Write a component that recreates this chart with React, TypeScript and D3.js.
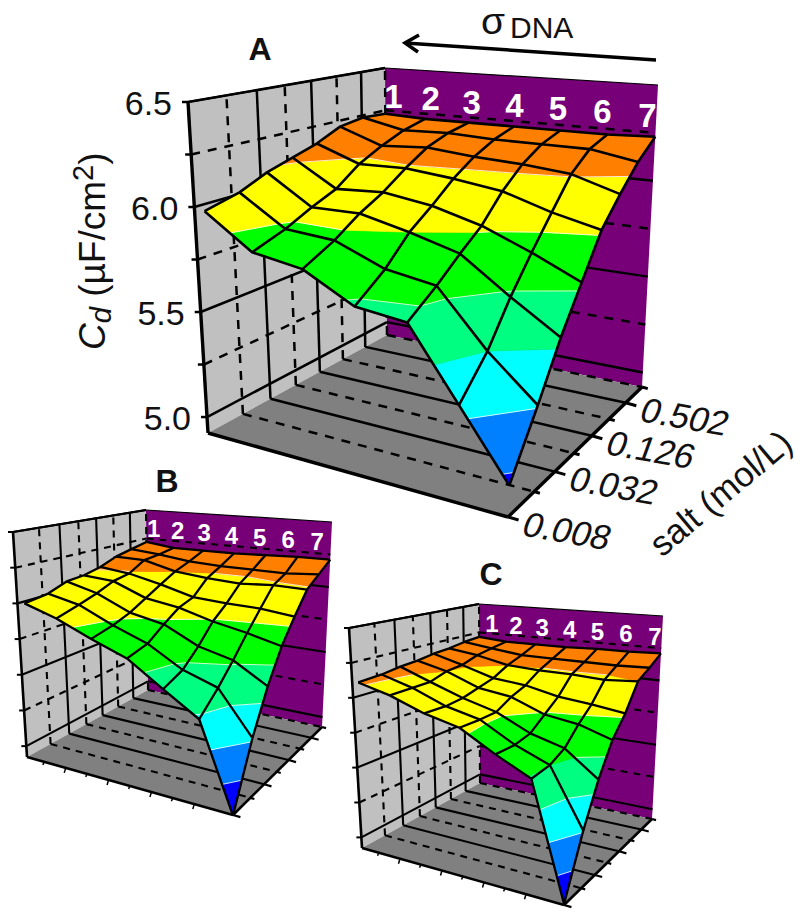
import React, { useEffect, useRef } from 'react'
import * as d3 from 'd3'

// surface heights, one row per salt step (front 0.008 to the back), seven sigma columns
const surfaceA = [
  [5.98, 5.83, 5.80, 5.68, 5.66, 5.35, 5.06],
  [6.02, 5.88, 5.87, 5.78, 5.75, 5.50, 5.31],
  [6.08, 5.94, 5.95, 5.90, 5.84, 5.68, 5.54],
  [6.12, 5.99, 6.01, 5.98, 5.92, 5.83, 5.73],
  [6.16, 6.08, 6.09, 6.07, 6.04, 5.97, 5.92],
  [6.22, 6.14, 6.16, 6.14, 6.13, 6.11, 6.04],
  [6.24, 6.19, 6.20, 6.19, 6.19, 6.19, 6.15],
  [6.23, 6.22, 6.22, 6.22, 6.22, 6.22, 6.23],
]
const surfaceB = [
  [6.00, 5.94, 5.85, 5.77, 5.62, 5.48, 4.92],
  [6.02, 5.98, 5.88, 5.80, 5.67, 5.60, 5.32],
  [6.07, 6.02, 5.92, 5.88, 5.77, 5.72, 5.59],
  [6.08, 6.07, 5.98, 5.95, 5.89, 5.85, 5.80],
  [6.11, 6.09, 6.04, 5.98, 5.97, 5.97, 5.95],
  [6.16, 6.16, 6.10, 6.08, 6.07, 6.09, 6.09],
  [6.19, 6.17, 6.14, 6.13, 6.13, 6.13, 6.15],
  [6.22, 6.19, 6.19, 6.19, 6.20, 6.21, 6.21],
]
const surfaceC = [
  [6.11, 6.06, 5.98, 5.93, 5.80, 5.69, 4.93],
  [6.12, 6.06, 5.97, 5.92, 5.79, 5.70, 5.31],
  [6.14, 6.06, 5.98, 5.92, 5.81, 5.75, 5.58],
  [6.15, 6.10, 6.01, 5.98, 5.89, 5.86, 5.79],
  [6.17, 6.11, 6.04, 6.02, 5.97, 5.95, 5.92],
  [6.18, 6.15, 6.10, 6.09, 6.09, 6.08, 6.10],
  [6.20, 6.17, 6.14, 6.14, 6.14, 6.14, 6.15],
  [6.21, 6.19, 6.19, 6.19, 6.20, 6.20, 6.21],
]

const sigmaLabels = ['1', '2', '3', '4', '5', '6', '7']
const saltLabels = ['0.008', '', '0.032', '', '0.126', '', '0.502', '']
const zTicks = [5, 5.25, 5.5, 5.75, 6, 6.25, 6.5]
const zLabels = ['5.0', '', '5.5', '', '6.0', '', '6.5']
const bandLimits = [5.1, 5.3, 5.5, 5.7, 5.9, 6.1]
const bandColors = ['#0000ff', '#0080ff', '#00ffff', '#00ff80', '#00ff00', '#ffff00', '#ff8000']

// screen corners of each box: front/back, left/right, bottom/top
const boxA = { flb: [208, 433], flt: [188, 102], blb: [387, 335], blt: [385, 68], brb: [642, 387], brt: [658, 85], frb: [508, 517], frt: [523, 152] }
const boxB = { flb: [27, 757], flt: [13, 532], blb: [148, 690], blt: [146, 510], brb: [322, 727], brt: [332, 522], frb: [233, 815], frt: [241, 569] }
const boxC = { flb: [362, 848], flt: [349, 628], blb: [480, 783], blt: [479, 604], brb: [652, 819], brt: [663, 616], frb: [564, 905], frt: [572, 662] }

const panels = [
  { values: surfaceA, box: boxA, inset: 10, big: true, labelFrom: 0.03, labelTo: 0.967, labelSize: 33 },
  { values: surfaceB, box: boxB, inset: 7, big: false, labelFrom: 0.04, labelTo: 0.925, labelSize: 24 },
  { values: surfaceC, box: boxC, inset: 6, big: false, labelFrom: 0.07, labelTo: 0.962, labelSize: 24 },
]

const uScale = d3.scalePow().exponent(1.07).domain([0, 6]).range([0, 1])
const vScale = d3.scalePow().exponent(0.84).domain([0, 7]).range([0, 1])
const wScale = d3.scaleLinear().domain([4.924, 6.5]).range([0, 1])

const mix = (a, b, t) => a + (b - a) * t

function project(b, u, v, z) {
  const w = wScale(z)
  return [0, 1].map(k => {
    const fl = mix(b.flb[k], b.flt[k], w)
    const fr = mix(b.frb[k], b.frt[k], w)
    const bl = mix(b.blb[k], b.blt[k], w)
    const br = mix(b.brb[k], b.brt[k], w)
    return mix(mix(fl, fr, u), mix(bl, br, u), v)
  })
}

const line = d3.line()
const closed = pts => line(pts) + 'Z'

// keep the part of a cell outline that lies between two heights
function clipBand(cell, lo, hi) {
  const clip = (pts, keep, level) => {
    const out = []
    pts.forEach((p, n) => {
      const q = pts[(n + 1) % pts.length]
      if (keep(p.z)) out.push(p)
      if (keep(p.z) !== keep(q.z)) {
        const t = (level - p.z) / (q.z - p.z)
        out.push({ u: mix(p.u, q.u, t), v: mix(p.v, q.v, t), z: level })
      }
    })
    return out
  }
  let pts = clip(cell, z => z >= lo, lo)
  if (pts.length) pts = clip(pts, z => z <= hi, hi)
  return pts
}

function drawPanel(svg, panel) {
  const { values, box, inset, big } = panel
  const g = svg.append('g')
  const gridWidth = big ? 2.5 : 2.1
  const dash = big ? '9,8' : '7,6'
  const bottom = wScale.domain()[0]
  const top = wScale.domain()[1]
  const gridLine = (a, b, solid, width = gridWidth) =>
    g.append('path').attr('d', line([a, b])).attr('stroke', '#000').attr('fill', 'none')
      .attr('stroke-width', width).attr('stroke-dasharray', solid ? null : dash)

  // walls and floor
  g.append('path').attr('d', closed([box.flb, box.flt, box.blt, box.blb])).attr('fill', '#c0c0c0')
  g.append('path').attr('d', closed([box.blb, box.blt, box.brt, box.brb])).attr('fill', '#770078')
  g.append('path').attr('d', closed([box.flb, box.blb, box.brb, box.frb])).attr('fill', '#808080')

  const saltSteps = d3.range(8)
  saltSteps.forEach(j => {
    const v = vScale(j)
    // floor lines and the matching uprights on the left wall
    if (j > 0) gridLine(project(box, 0, v, bottom), project(box, 1, v, bottom), j % 2 === 0)
    if (j > 0) gridLine(project(box, 0, v, bottom), project(box, 0, v, top), j % 2 === 0)
  })
  zTicks.forEach((z, n) => {
    gridLine(project(box, 0, 0, z), project(box, 0, 1, z), n % 2 === 0)
    if (n < zTicks.length - 1) gridLine(project(box, 0, 1, z), project(box, 1, 1, z), n % 2 === 0)
  })
  gridLine(project(box, 0, 0, top), project(box, 0, 1, top), true, 1.8)
  gridLine(project(box, 0, 1, top), project(box, 1, 1, top), true, 1.2)

  // frame edges
  const edge = big ? 3.4 : 2.6
  gridLine(box.flb, box.flt, true, edge)
  gridLine(box.flb, box.frb, true, edge)
  gridLine(box.frb, box.brb, true, edge)

  // axis ticks
  const front = [box.frb[0] - box.flb[0], box.frb[1] - box.flb[1]]
  const frontLen = Math.hypot(front[0], front[1])
  const dir = [front[0] / frontLen, front[1] / frontLen]
  saltSteps.forEach(j => {
    const p = project(box, 1, vScale(j), bottom)
    const len = (j % 2 === 0 ? 11 : 6) * (big ? 1 : 0.7)
    gridLine(p, [p[0] + dir[0] * len, p[1] + dir[1] * len], true, big ? 3 : 2.2)
  })
  zTicks.forEach(z => {
    const p = project(box, 0, 0, z)
    gridLine(p, [p[0] - (big ? 6 : 5), p[1]], true, big ? 2.5 : 2)
  })
  if (!big) {
    d3.range(1, 9).forEach(k => {
      const p = project(box, k * 0.104 - 0.02, 0, bottom)
      gridLine(p, [p[0] - 1.5, p[1] + (k % 2 === 0 ? 5 : 3)], true, 1.5)
    })
  }

  // surface, from the back row to the front row
  const sb = {
    ...box,
    flb: [box.flb[0] + inset, box.flb[1]],
    flt: [box.flt[0] + inset, box.flt[1]],
  }
  const fills = g.append('g')
  const whites = g.append('g')
  const cells = []
  for (let j = 6; j >= 0; j--) {
    for (let i = 0; i < 6; i++) {
      cells.push([
        { u: uScale(i), v: vScale(j), z: values[j][i] },
        { u: uScale(i + 1), v: vScale(j), z: values[j][i + 1] },
        { u: uScale(i + 1), v: vScale(j + 1), z: values[j + 1][i + 1] },
        { u: uScale(i), v: vScale(j + 1), z: values[j + 1][i] },
      ])
    }
  }
  const toScreen = p => project(sb, p.u, p.v, p.z)
  cells.forEach(cell => {
    bandColors.forEach((color, b) => {
      const lo = b === 0 ? -Infinity : bandLimits[b - 1]
      const hi = b === bandColors.length - 1 ? Infinity : bandLimits[b]
      const pts = clipBand(cell, lo, hi)
      if (pts.length > 2) {
        fills.append('path').attr('d', closed(pts.map(toScreen)))
          .attr('fill', color).attr('stroke', color).attr('stroke-width', 0.6)
      }
    })
    bandLimits.forEach(limit => {
      const cross = []
      cell.forEach((p, n) => {
        const q = cell[(n + 1) % 4]
        if ((p.z - limit) * (q.z - limit) < 0) {
          const t = (limit - p.z) / (q.z - p.z)
          cross.push(toScreen({ u: mix(p.u, q.u, t), v: mix(p.v, q.v, t), z: limit }))
        }
      })
      if (cross.length >= 2) {
        whites.append('path').attr('d', line(cross.slice(0, 2)))
          .attr('stroke', '#fff').attr('stroke-width', 1).attr('opacity', 0.8)
      }
    })
  })

  const surfacePath = d3.range(8).flatMap(j => [
    d3.range(7).map(i => toScreen({ u: uScale(i), v: vScale(j), z: values[j][i] })),
  ]).concat(d3.range(7).map(i => d3.range(8).map(j => toScreen({ u: uScale(i), v: vScale(j), z: values[j][i] }))))
  g.append('g').selectAll('path').data(surfacePath).enter().append('path')
    .attr('d', d => line(d)).attr('fill', 'none').attr('stroke', '#000')
    .attr('stroke-width', big ? 2.6 : 2.3).attr('stroke-linejoin', 'round')

  // sigma numbers on the back wall
  const labelU = d3.scaleLinear().domain([0, 1]).range([panel.labelFrom, panel.labelTo])
  g.append('g').selectAll('text').data(sigmaLabels).enter().append('text')
    .attr('x', (d, i) => project(box, labelU(uScale(i)), 1, 6.34)[0])
    .attr('y', (d, i) => project(box, labelU(uScale(i)), 1, 6.34)[1])
    .attr('dy', '0.36em').attr('text-anchor', 'middle').attr('fill', '#fff')
    .attr('font-weight', 'bold').attr('font-size', panel.labelSize).text(d => d)
}

export default function App() {
  const ref = useRef(null)
  useEffect(() => {
    const svg = d3.select(ref.current)
    svg.selectAll('*').remove()
    svg.attr('font-family', '"Liberation Sans", Arial, sans-serif')
    panels.forEach(p => drawPanel(svg, p))

    // axis text of panel A
    zTicks.forEach((z, n) => {
      if (!zLabels[n]) return
      const p = project(boxA, 0, 0, z)
      svg.append('text').attr('x', p[0] - 16).attr('y', p[1] + 13)
        .attr('text-anchor', 'end').attr('font-size', 34).attr('fill', '#111').text(zLabels[n])
    })
    saltLabels.forEach((label, j) => {
      if (!label) return
      const p = project(boxA, 1, vScale(j), wScale.domain()[0])
      svg.append('text')
        .attr('transform', `translate(${p[0] + 12},${p[1] + 18}) rotate(10) skewX(-10)`)
        .attr('font-size', 35).attr('fill', '#111').text(label)
    })
    svg.append('text').attr('transform', 'translate(662,558) rotate(-40)')
      .attr('font-size', 35).attr('fill', '#111').text('salt (mol/L)')

    const yLabel = svg.append('text').attr('transform', 'translate(105,350) rotate(-90)')
      .attr('font-size', 37).attr('fill', '#111')
    yLabel.append('tspan').attr('font-style', 'italic').text('C')
    yLabel.append('tspan').attr('font-style', 'italic').attr('font-size', 29).attr('dy', 6).text('d')
    yLabel.append('tspan').attr('dy', -6).text(' (µF/cm')
    yLabel.append('tspan').attr('font-size', 29).attr('dy', -12).text('2')
    yLabel.append('tspan').attr('dy', 12).text(')')

    // panel letters
    const letters = [['A', 260, 60], ['B', 167, 492], ['C', 491, 585]]
    letters.forEach(([t, x, y]) => {
      svg.append('text').attr('x', x).attr('y', y).attr('text-anchor', 'middle')
        .attr('font-weight', 'bold').attr('font-size', 32).attr('fill', '#111').text(t)
    })

    // sigma DNA arrow
    svg.append('text').attr('x', 481).attr('y', 34).attr('font-size', 37).attr('fill', '#111')
      .attr('textLength', 24).attr('lengthAdjust', 'spacingAndGlyphs').text('σ')
    svg.append('text').attr('x', 510).attr('y', 38).attr('font-size', 30).attr('fill', '#111').text('DNA')
    svg.append('path').attr('d', line([[656, 60], [405, 43]])).attr('stroke', '#000').attr('stroke-width', 3.5)
    svg.append('path').attr('d', line([[419, 35], [405, 43], [418, 52]]))
      .attr('stroke', '#000').attr('stroke-width', 3.5).attr('fill', 'none')
  }, [])
  return <svg ref={ref} width={800} height={919} style={{ position: 'absolute', left: 0, top: 0 }} />
}
